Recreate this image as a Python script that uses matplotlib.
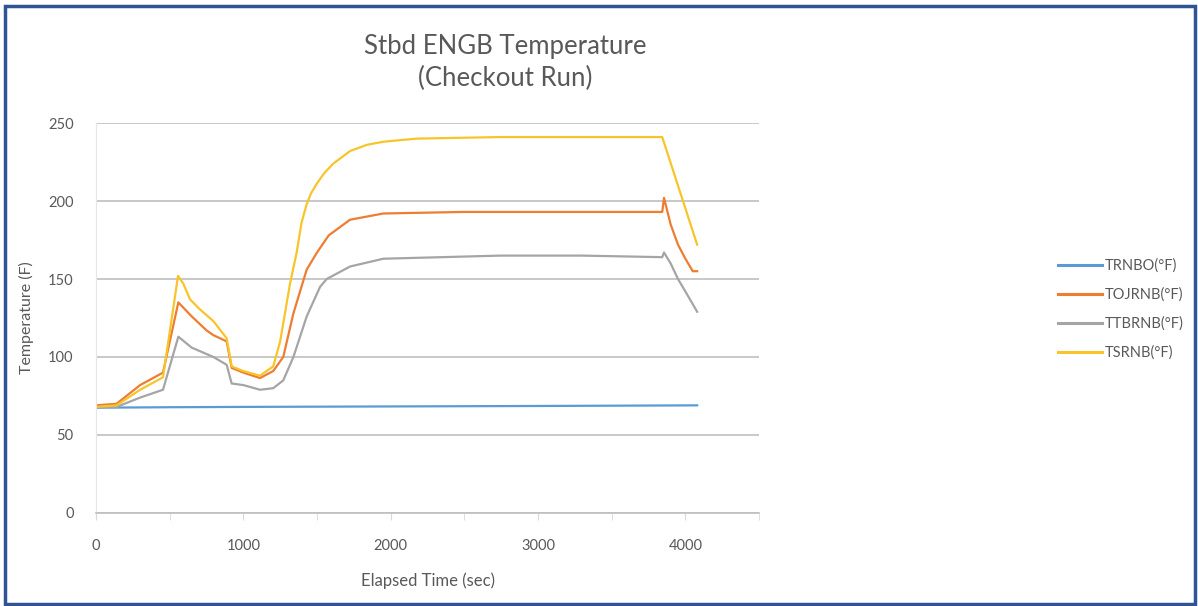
import matplotlib.pyplot as plt
from matplotlib.patches import Rectangle
from matplotlib.lines import Line2D

# Series (time in sec, temperature in F)
t_trnbo = [0, 500, 1000, 2000, 3000, 4080]
trnbo = [67.5, 67.8, 68.0, 68.3, 68.6, 69.0]

t_tojrnb = [0, 140, 300, 455, 559, 650, 751, 797, 887, 921, 1000, 1113, 1203, 1271,
            1340, 1430, 1500, 1580, 1724, 1950, 2500, 3000, 3843, 3855, 3900, 3950,
            4000, 4050, 4080]
tojrnb = [69, 70, 82, 90, 135, 126, 117, 114, 110, 93, 90, 86.5, 91, 100,
          128, 156, 167, 178, 188, 192, 193, 193, 193, 202, 185, 172,
          163, 155, 155]

t_ttbrnb = [0, 140, 300, 455, 559, 650, 797, 887, 921, 1000, 1113, 1203, 1271, 1340,
            1430, 1521, 1566, 1724, 1950, 2743, 3300, 3843, 3855, 3900, 3950, 4000, 4080]
ttbrnb = [68, 68, 74, 79, 113, 106, 100, 95, 83, 82, 79, 80, 85, 100,
          126, 145, 150, 158, 163, 165, 165, 164, 167, 160, 150, 142, 129]

t_tsrnb = [0, 140, 300, 455, 557, 593, 638, 700, 797, 887, 921, 1000, 1113, 1203,
           1250, 1317, 1362, 1395, 1430, 1460, 1498, 1550, 1611, 1724, 1838, 1950,
           2176, 2743, 3300, 3843, 4080]
tsrnb = [68, 69, 79, 87, 152, 147, 137, 131, 123, 112, 94, 91, 88, 94,
         110, 147, 167, 186, 198, 205, 211, 218, 224, 232, 236, 238,
         240, 241, 241, 241, 172]

labels = ['TRNBO(°F)', 'TOJRNB(°F)', 'TTBRNB(°F)', 'TSRNB(°F)']
colors = ['#5B9BD5', '#ED7D31', '#A5A5A5', '#F7C52A']

plt.rcParams['font.family'] = ['Lato', 'DejaVu Sans']
text_color = '#595959'

fig = plt.figure(figsize=(11.98, 6.06), dpi=100)
ax = fig.add_axes([0.0801, 0.1535, 0.5535, 0.6435])

series = [(t_trnbo, trnbo), (t_tojrnb, tojrnb), (t_ttbrnb, ttbrnb), (t_tsrnb, tsrnb)]
for (t, v), c, lab in zip(series, colors, labels):
    ax.plot(t, v, color=c, lw=1.6, label=lab)

ax.set_xlim(0, 4500)
ax.set_ylim(0, 250)
ax.set_yticks(range(0, 251, 50))
ax.set_xticks(range(0, 4001, 1000))
ax.set_xticks(range(0, 4501, 500), minor=True)
ax.grid(axis='y', color='#BFBFBF', lw=1.2)
ax.set_axisbelow(True)
for s in ['top', 'right']:
    ax.spines[s].set_visible(False)
ax.spines['left'].set_color('#E6E6E6')
ax.spines['bottom'].set_color('#BFBFBF')
ax.spines['bottom'].set_linewidth(1.2)
ax.tick_params(axis='y', length=0, pad=16, labelsize=10.5, labelcolor=text_color)
ax.tick_params(axis='x', which='major', length=5, color='#D9D9D9', pad=14,
               labelsize=10.5, labelcolor=text_color)
ax.tick_params(axis='x', which='minor', length=5, color='#D9D9D9')

ax.set_xlabel('Elapsed Time (sec)', fontsize=12, color=text_color, labelpad=14)
ax.set_ylabel('Temperature (F)', fontsize=11.5, color=text_color, labelpad=10)

fig.text(0.4215, 0.923, 'Stbd ENGB Temperature', ha='center', va='center',
         fontsize=18.5, color=text_color)
fig.text(0.4215, 0.871, '(Checkout Run)', ha='center', va='center',
         fontsize=18.5, color=text_color)

handles = [Line2D([0], [0], color=c, lw=2.2) for c in colors]
fig.legend(handles, labels, loc='upper left', bbox_to_anchor=(0.872, 0.595),
           frameon=False, fontsize=10.5, labelcolor=text_color, handlelength=3.0,
           handletextpad=0.2, labelspacing=1.0)

# outer frame
fig.patches.append(Rectangle((5 / 1198, 2 / 606), 1190 / 1198, 598 / 606,
                             transform=fig.transFigure, fill=False,
                             edgecolor='#2F5496', lw=2.5))

fig.savefig('out.png', dpi=100)
